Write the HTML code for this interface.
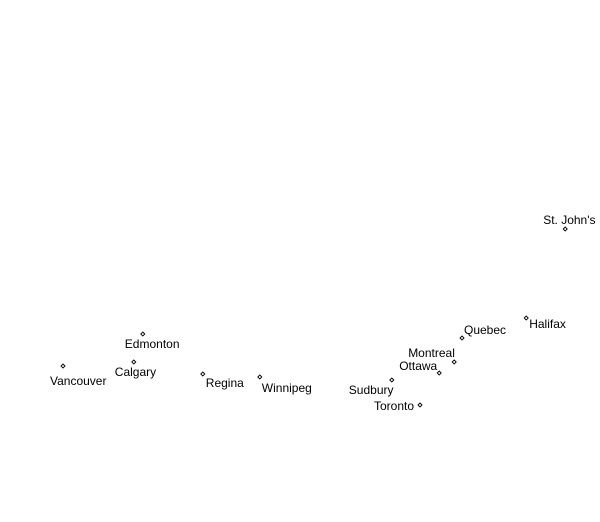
<!DOCTYPE html>
<html><head><meta charset="utf-8"><style>
html,body{margin:0;padding:0;background:#fff;}
svg{display:block;}
text{font-family:"Liberation Sans",Arial,sans-serif;font-size:12px;fill:#000;}
</style></head><body>
<svg id="chart" width="600" height="522" viewBox="0 0 600 522"></svg>
<script>
const cities = ["Vancouver","Calgary","Edmonton","Regina","Winnipeg","Sudbury","Toronto","Ottawa","Montreal","Quebec","Halifax","St. John's"];
const xValues = [10.5,22.3,23.8,33.8,43.3,65.3,70.0,73.2,75.7,77.0,87.7,94.2];
const yValues = [31.2,32.0,37.6,29.6,29.0,28.4,23.4,29.8,32.0,36.8,40.8,58.6];
const labelDx = [-13,-19,-18,3,2,-43,-46,-40,-46,2,3,-22];
const labelDy = [19,14,14,13,15,14,5,-3,-5,-4,10,-5];
function xScale(v){return v*6;}
function yScale(v){return 522 - v*5;}
const svg = document.getElementById('chart');
const NS = 'http://www.w3.org/2000/svg';
for (let i=0;i<cities.length;i++){
  const cx = xScale(xValues[i]), cy = yScale(yValues[i]);
  const m = document.createElementNS(NS,'path');
  m.setAttribute('d',`M${cx},${cy-2}L${cx+2},${cy}L${cx},${cy+2}L${cx-2},${cy}Z`);
  m.setAttribute('fill','none');
  m.setAttribute('stroke','#000');
  m.setAttribute('stroke-width','0.9');
  
  
  svg.appendChild(m);
  const t = document.createElementNS(NS,'text');
  t.setAttribute('x',cx+labelDx[i]);
  t.setAttribute('y',cy+labelDy[i]);
  t.textContent = cities[i];
  
  
  svg.appendChild(t);
}
</script>
</body></html>
